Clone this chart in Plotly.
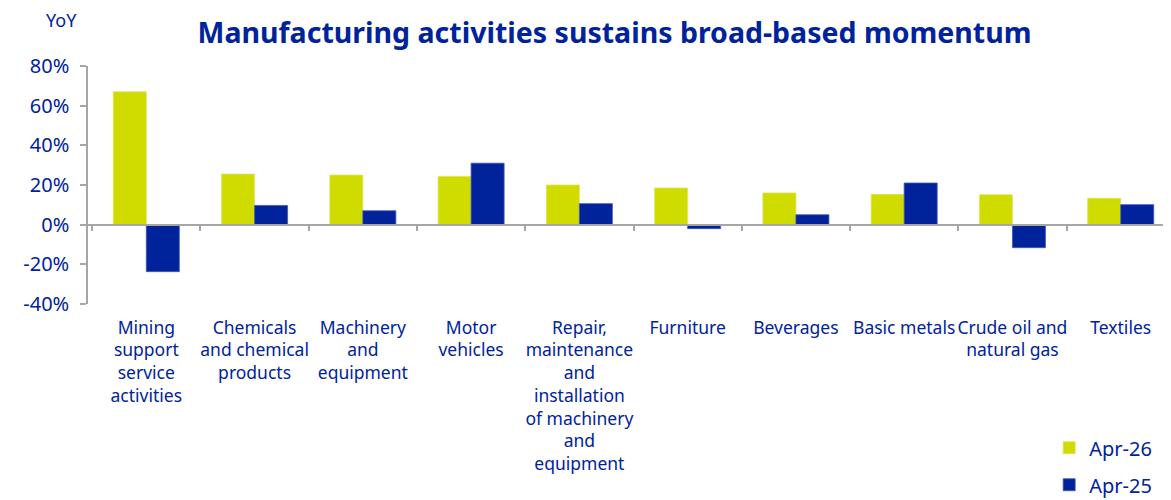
import plotly.graph_objects as go

categories = [
    "Mining<br>support<br>service<br>activities",
    "Chemicals<br>and chemical<br>products",
    "Machinery<br>and<br>equipment",
    "Motor<br>vehicles",
    "Repair,<br>maintenance<br>and<br>installation<br>of machinery<br>and<br>equipment",
    "Furniture",
    "Beverages",
    "Basic metals",
    "Crude oil and<br>natural gas",
    "Textiles",
]
apr26 = [67.0, 25.5, 25.0, 24.3, 20.0, 18.5, 16.0, 15.3, 15.1, 13.3]
apr25 = [-23.7, 9.7, 7.0, 31.0, 10.6, -2.0, 5.0, 21.0, -11.6, 10.1]
y_ticks = [-40, -20, 0, 20, 40, 60, 80]
y_tick_labels = [f"{v}%" for v in y_ticks]

GREEN = "#D0DB00"
NAVY = "#00239C"
GREY = "#A6A6A6"
FONT = "Noto Sans"

fig = go.Figure()
fig.add_trace(go.Bar(name="Apr-26", x=categories, y=apr26, marker_color=GREEN,
                     marker_line=dict(color="#DDE45C", width=0.8),
                     legendgroup="a"))
fig.add_trace(go.Bar(name="Apr-25", x=categories, y=apr25, marker_color=NAVY,
                     marker_line=dict(color="#4257B0", width=0.8),
                     legendgroup="b"))
# invisible trace to carry the zero-line axis with boundary ticks
fig.add_trace(go.Scatter(x=categories, y=[0] * len(categories), xaxis="x2",
                         mode="markers", marker=dict(opacity=0),
                         showlegend=False, hoverinfo="skip"))

ymin, ymax = -40, 80
zero_frac = (0 - ymin) / (ymax - ymin)

fig.update_layout(
    width=1171, height=500,
    margin=dict(l=80, r=0, t=58, b=204, autoexpand=False),
    paper_bgcolor="white", plot_bgcolor="white",
    font=dict(family=FONT, color=NAVY, size=17),
    barmode="group", bargap=0.39, bargroupgap=0,
    title=dict(text="<b>Manufacturing activities sustains broad-based momentum</b>",
               x=0.518, xanchor="center", y=0.95, yanchor="middle",
               font=dict(family=FONT, size=28.5, color=NAVY)),
    xaxis=dict(showline=False, ticks="", showgrid=False, zeroline=False,
               automargin=False, ticklabelstandoff=11,
               tickfont=dict(size=17.5, color=NAVY), tickangle=0),
    xaxis2=dict(overlaying="x", matches="x", anchor="free", position=zero_frac,
                showline=True, linecolor=GREY, linewidth=1.5,
                ticks="outside", tickson="boundaries", ticklen=6,
                tickcolor=GREY, tickwidth=1.5, showticklabels=False,
                showgrid=False, zeroline=False, automargin=False),
    yaxis=dict(range=[ymin, ymax], tickvals=y_ticks, ticktext=y_tick_labels,
               showline=True, linecolor=GREY, linewidth=1.5,
               ticks="outside", ticklen=6, tickcolor=GREY, tickwidth=1.5,
               showgrid=False, zeroline=False, automargin=False,
               ticklabelstandoff=7,
               tickfont=dict(size=20, color=NAVY)),
    legend=dict(x=0.881, y=-0.522, xanchor="left", yanchor="top",
                font=dict(size=20, color=NAVY), tracegroupgap=8,
                traceorder="grouped", itemwidth=30, bgcolor="rgba(0,0,0,0)"),
    annotations=[dict(text="YoY", xref="paper", yref="paper", x=-0.024, y=1.193,
                      xanchor="center", yanchor="middle", showarrow=False,
                      font=dict(size=18, color=NAVY))],
)

fig.write_html("out.html")
